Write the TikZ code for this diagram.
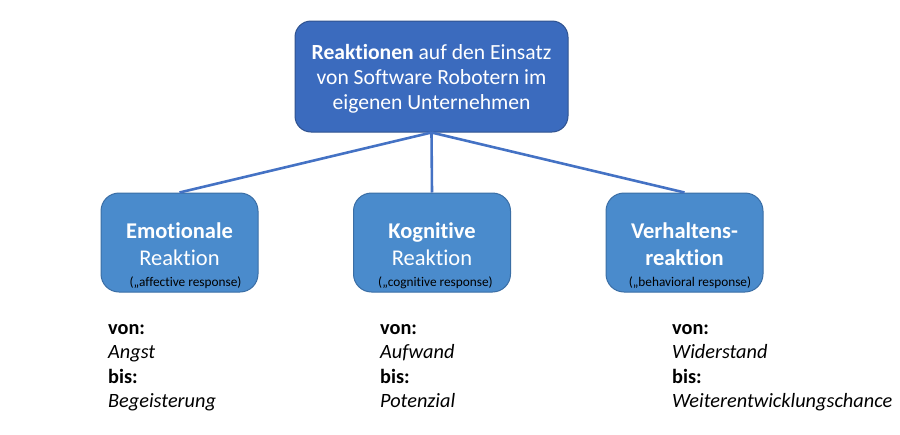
\documentclass[tikz,border=0pt]{standalone}
\usepackage{fontspec}
\setmainfont{Carlito}[Ligatures=NoCommon]
\definecolor{topfill}{HTML}{3B6BBE}
\definecolor{topdraw}{HTML}{2F528F}
\definecolor{lowfill}{HTML}{4A8BCC}
\definecolor{lowdraw}{HTML}{3A6EA5}
\definecolor{linkc}{HTML}{4472C4}
\begin{document}
\begin{tikzpicture}[x=1pt,y=1pt,
  topbox/.style={draw=topdraw,fill=topfill,line width=1pt,rounded corners=16pt,minimum width=273pt,minimum height=111pt},
  lowbox/.style={draw=lowdraw,fill=lowfill,line width=1pt,rounded corners=18pt,minimum width=157pt,minimum height=99pt},
  toptext/.style={text=white,align=center,inner sep=0pt,font=\fontsize{21.6}{25}\selectfont},
  boxtext/.style={text=white,align=center,inner sep=0pt,font=\fontsize{22.5}{27.5}\selectfont},
  smalltext/.style={text=black,inner sep=0pt,font=\fontsize{13.3}{15}\selectfont},
  link/.style={draw=linkc,line width=2.6pt},
  listtext/.style={anchor=north west,align=left,inner sep=0pt,font=\fontsize{20.3}{24.5}\selectfont}]
\useasboundingbox (0,0) rectangle (900,-434);
\node[topbox] (top) at (431.5,-76.5) {};
\node[toptext] (toptext) at (431.5,-79) {\textbf{Reaktionen} auf den Einsatz\\von Software Robotern im\\eigenen Unternehmen};
\node[lowbox] (emo) at (179.5,-242.5) {};
\node[lowbox] (kog) at (432,-242.5) {};
\node[lowbox] (ver) at (684.5,-242.5) {};
\draw[link] (top.south) -- (emo.north);
\draw[link] (top.south) -- (kog.north);
\draw[link] (top.south) -- (ver.north);
\node[boxtext] (emot) at (179.5,-244) {\textbf{Emotionale}\\Reaktion};
\node[boxtext] (kogt) at (432,-244) {\textbf{Kognitive}\\Reaktion};
\node[boxtext] (vert) at (684.5,-244) {\textbf{Verhaltens-}\\\textbf{reaktion}};
\node[smalltext] (emos) at (185.5,-282.5) {(„affective response)};
\node[smalltext] (kogs) at (435.5,-282.5) {(„cognitive response)};
\node[smalltext] (vers) at (690,-282.5) {(„behavioral response)};
\node[listtext] (emol) at (108,-324) {\textbf{von:}\\\textit{Angst}\\\textbf{bis:}\\\textit{Begeisterung}};
\node[listtext] (kogl) at (380,-324) {\textbf{von:}\\\textit{Aufwand}\\\textbf{bis:}\\\textit{Potenzial}};
\node[listtext] (verl) at (672,-324) {\textbf{von:}\\\textit{Widerstand}\\\textbf{bis:}\\\textit{Weiterentwicklungschance}};
\end{tikzpicture}
\end{document}
